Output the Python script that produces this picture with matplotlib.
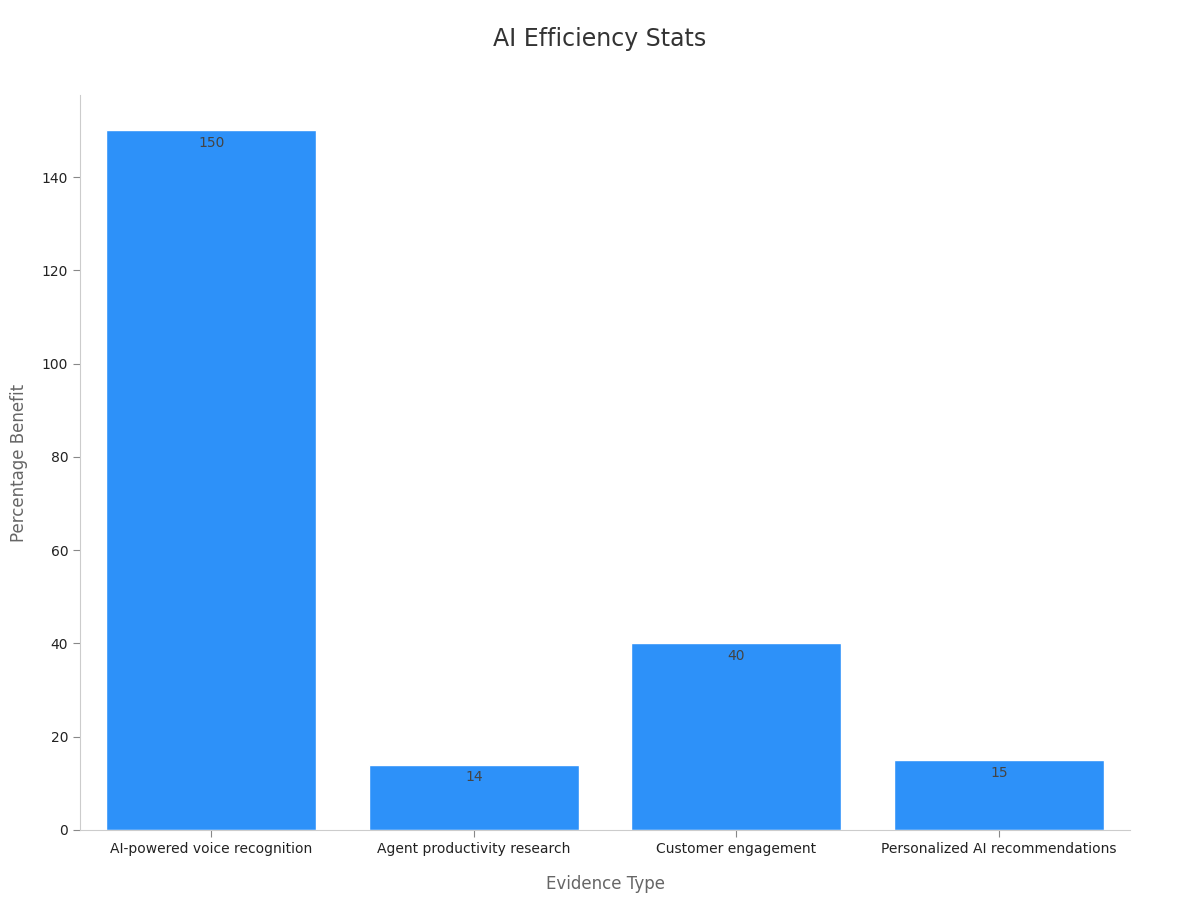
import matplotlib
matplotlib.use("Agg")
import matplotlib.pyplot as plt

categories = ["AI-powered voice recognition", "Agent productivity research",
              "Customer engagement", "Personalized AI recommendations"]
values = [150, 14, 40, 15]

fig = plt.figure(figsize=(12, 9), dpi=100)
ax = fig.add_axes([0.0667, 0.0778, 0.875, 0.8166])

bars = ax.bar(range(len(categories)), values, width=0.8, color="#2d91f9",
              edgecolor="white", linewidth=1)
for b, v in zip(bars, values):
    ax.annotate(f"{v}", (b.get_x() + b.get_width() / 2, v), xytext=(0, -4),
                textcoords="offset points", ha="center", va="top",
                fontsize=10, color="#444444")

ax.set_xlim(-0.5, 3.5)
ax.set_ylim(0, 157.6)
ax.set_xticks(range(len(categories)))
ax.set_xticklabels(categories, fontsize=10, color="#222222")
ax.set_yticks(range(0, 141, 20))
ax.tick_params(axis="y", labelsize=10, colors="#222222")
ax.tick_params(color="#888888", length=5)
for s in ["top", "right"]:
    ax.spines[s].set_visible(False)
for s in ["left", "bottom"]:
    ax.spines[s].set_color("#cccccc")

ax.set_xlabel("Evidence Type", fontsize=12, color="#666666", labelpad=14)
ax.set_ylabel("Percentage Benefit", fontsize=12, color="#666666", labelpad=10)
fig.suptitle("AI Efficiency Stats", fontsize=17, color="#333333", y=0.97)

fig.savefig("out.png", dpi=100)
